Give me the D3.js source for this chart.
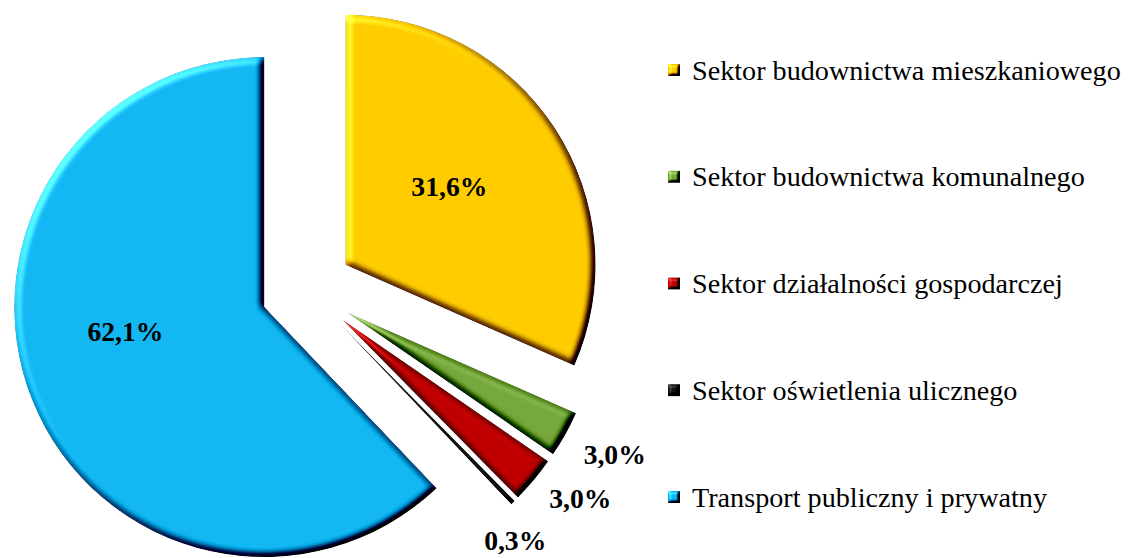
<!DOCTYPE html>
<html>

<head>
    <meta charset="utf-8">
    <title>Struktura zużycia energii</title>
    <script src="https://d3js.org/d3.v7.min.js"></script>
    <style>
        body {
            margin: 0;
            background: #fff;
        }

        svg {
            display: block;
        }

        .label {
            font-family: "Liberation Serif", "DejaVu Serif", serif;
            font-weight: bold;
            fill: #000;
        }

        .legend text {
            font-family: "Liberation Serif", "DejaVu Serif", serif;
            fill: #000;
        }
    </style>
</head>

<body>
    <div id="chart"></div>

    <script>
        // chart data
        const categories = [
            "Sektor budownictwa mieszkaniowego",
            "Sektor budownictwa komunalnego",
            "Sektor działalności gospodarczej",
            "Sektor oświetlenia ulicznego",
            "Transport publiczny i prywatny"
        ];
        const values = [31.6, 3.0, 3.0, 0.3, 62.1];
        const valueLabels = ["31,6%", "3,0%", "3,0%", "0,3%", "62,1%"];
        const colors = ["#ffcc00", "#76a83e", "#c00000", "#111111", "#13b8f2"];

        const width = 1130,
            height = 558;
        const cx = 307,
            cy = 290,
            radius = 250,
            explode = 46;

        // label placement relative to the slice tip: [angle in deg from 12 o'clock, distance]
        const labelPolar = [[53, 130], [118, 303], [127, 298], [141, 280], [260, 141]];

        var svg = d3.select("#chart").append("svg")
            .attr("width", width)
            .attr("height", height);

        var defs = svg.append("defs");

        function addBevel(id, blur, scale) {
            var f = defs.append("filter")
                .attr("id", id)
                .attr("x", "-10%").attr("y", "-10%")
                .attr("width", "120%").attr("height", "120%")
                .attr("color-interpolation-filters", "sRGB");
            f.append("feGaussianBlur")
                .attr("in", "SourceAlpha")
                .attr("stdDeviation", blur)
                .attr("result", "blur");
            f.append("feDiffuseLighting")
                .attr("in", "blur")
                .attr("surfaceScale", scale)
                .attr("diffuseConstant", 1)
                .attr("lighting-color", "#fff")
                .attr("result", "light")
                .append("feDistantLight")
                .attr("azimuth", 225)
                .attr("elevation", 50);
            f.append("feComposite")
                .attr("in", "SourceGraphic")
                .attr("in2", "light")
                .attr("operator", "arithmetic")
                .attr("k1", 0).attr("k2", 1).attr("k3", 1.3).attr("k4", -1.3 * Math.sin(50 * Math.PI / 180))
                .attr("result", "lit");
            f.append("feComposite")
                .attr("in", "lit")
                .attr("in2", "SourceAlpha")
                .attr("operator", "in");
        }
        addBevel("bevel", 3.5, 6);
        addBevel("bevelSmall", 1.5, 4);

        var pie = d3.pie().sort(null).value(d => d.value);
        var arc = d3.arc().innerRadius(0).outerRadius(radius);

        var data = categories.map((c, i) => ({ name: c, value: values[i], label: valueLabels[i], color: colors[i] }));
        var arcs = pie(data);

        function offset(d) {
            var mid = (d.startAngle + d.endAngle) / 2;
            return [cx + Math.sin(mid) * explode, cy - Math.cos(mid) * explode];
        }

        var slices = svg.selectAll(".slice")
            .data(arcs)
            .enter().append("g")
            .attr("class", "slice")
            .attr("transform", d => "translate(" + offset(d) + ")");

        slices.append("path")
            .attr("d", arc)
            .attr("fill", d => d.data.color)
            .attr("filter", "url(#bevel)");

        // value labels
        var labels = svg.selectAll(".label")
            .data(arcs)
            .enter().append("text")
            .attr("class", "label")
            .attr("text-anchor", "middle")
            .attr("dominant-baseline", "central")
            .style("font-size", "24px")
            .text(d => d.data.label);

        // fit label size to the reference width of "31,6%"
        var lw = labels.nodes()[0].getComputedTextLength();
        var labelSize = 24 * 76 / lw;
        labels.style("font-size", labelSize + "px")
            .attr("x", (d, i) => offset(d)[0] + Math.sin(labelPolar[i][0] * Math.PI / 180) * labelPolar[i][1])
            .attr("y", (d, i) => offset(d)[1] - Math.cos(labelPolar[i][0] * Math.PI / 180) * labelPolar[i][1]);

        // legend
        var legendY = d3.scalePoint().domain(categories).range([70, 497]);
        var legend = svg.append("g").attr("class", "legend");
        var items = legend.selectAll("g")
            .data(data)
            .enter().append("g")
            .attr("transform", d => "translate(668," + legendY(d.name) + ")");

        items.append("rect")
            .attr("x", 0)
            .attr("y", -6)
            .attr("width", 12)
            .attr("height", 12)
            .attr("fill", d => d.color)
            .attr("filter", "url(#bevelSmall)");

        var legendText = items.append("text")
            .attr("x", 24)
            .attr("dominant-baseline", "central")
            .style("font-size", "22px")
            .text(d => d.name);

        var tw = legendText.nodes()[0].getComputedTextLength();
        legendText.style("font-size", (22 * 429 / tw) + "px");
    </script>
</body>

</html>
